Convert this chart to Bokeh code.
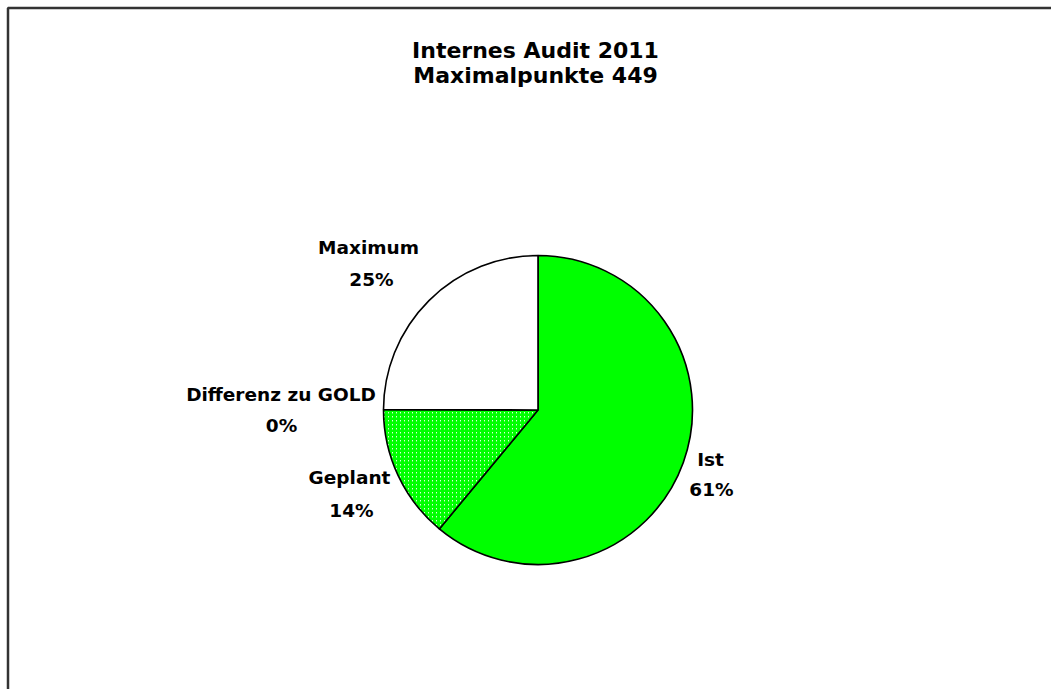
import math
from bokeh.plotting import figure
from bokeh.models import Range1d
from bokeh.core.properties import value
from bokeh.embed import file_html
from bokeh.resources import INLINE

# ---- data ----
categories = ["Ist", "Geplant", "Differenz zu GOLD", "Maximum"]
points = [274, 63, 0, 112]
title_lines = ["Internes Audit 2011", "Maximalpunkte 449"]

# ---- styles / positions (reference picture pixels) ----
fill_colors = ["#00FF00", "#FFFFFF", "#FFFFFF", "#FFFFFF"]
hatches = [None, "/", None, None]
label_name_pos = [(710, 459), (349, 477), (280.5, 394), (368, 247)]
label_pct_pos = [(711, 489), (351, 510), (281, 425), (371, 279)]
title_pos = [(535, 50), (535, 75)]
center_screen = (537.5, 409.5)
radius = 154.5

W, H = 1051, 689


def dx(sx):
    return sx


def dy(sy):
    return H - sy


p = figure(width=W, height=H, output_backend="svg", toolbar_location=None,
           x_range=Range1d(0, W), y_range=Range1d(0, H), min_border=0,
           match_aspect=False)
p.axis.visible = False
p.grid.visible = False
p.outline_line_color = None
p.background_fill_color = "white"
p.border_fill_color = "white"

total = sum(points)
cum = 0.0
starts, ends = [], []
for v in points:
    starts.append(math.pi / 2 - 2 * math.pi * cum / total)
    cum += v
    ends.append(math.pi / 2 - 2 * math.pi * cum / total)

cx, cy = dx(center_screen[0]), dy(center_screen[1])
for i, cat in enumerate(categories):
    if points[i] == 0:
        continue
    p.wedge(x=cx, y=cy, radius=radius, start_angle=starts[i], end_angle=ends[i],
            direction="clock", fill_color=fill_colors[i], line_color="black",
            line_width=1.6,
            hatch_pattern=hatches[i],
            hatch_color="#00FF00", hatch_scale=4, hatch_weight=2)

names_x = [dx(a) for a, b in label_name_pos]
names_y = [dy(b) for a, b in label_name_pos]
pct_x = [dx(a) for a, b in label_pct_pos]
pct_y = [dy(b) for a, b in label_pct_pos]
pct_text = ["%d%%" % round(v * 100 / total) for v in points]

p.text(x=names_x, y=names_y, text=categories, text_align="center",
       text_baseline="middle", text_font=value("DejaVu Sans"),
       text_font_style="bold", text_font_size="18.5px", text_color="black")
p.text(x=pct_x, y=pct_y, text=pct_text, text_align="center",
       text_baseline="middle", text_font=value("DejaVu Sans"),
       text_font_style="bold", text_font_size="18.5px", text_color="black")

p.text(x=[dx(a) for a, b in title_pos], y=[dy(b) for a, b in title_pos],
       text=title_lines, text_align="center", text_baseline="middle",
       text_font=value("DejaVu Sans"), text_font_style="bold",
       text_font_size="22px", text_color="black")

# chart frame (left and top edges visible)
p.line(x=[dx(7.5), dx(7.5), dx(W + 20)], y=[dy(H + 20), dy(7.5), dy(7.5)],
       line_color="#333333", line_width=2.5)

open("out.html", "w").write(file_html(p, INLINE))
